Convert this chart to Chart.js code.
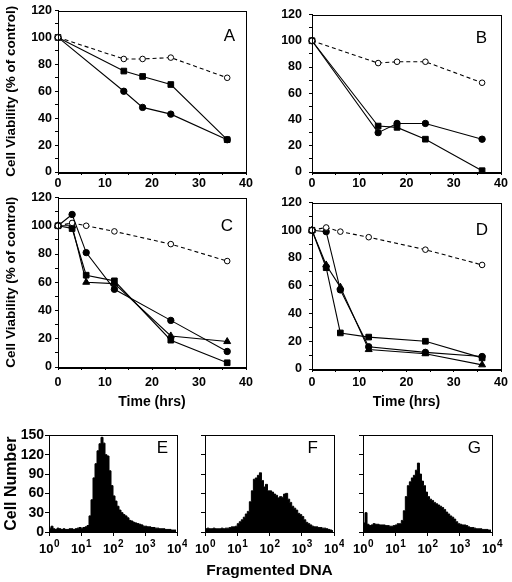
<!DOCTYPE html>
<html lang="en">
<head>
<meta charset="UTF-8">
<title>Cell Viability and Fragmented DNA</title>
<script src="https://cdn.jsdelivr.net/npm/chart.js"></script>
<style>
    body {
        margin: 0;
        background: #fff;
        width: 512px;
        height: 582px;
        position: relative;
        overflow: hidden;
    }
    canvas {
        position: absolute;
    }
</style>
</head>
<body>
<canvas id="panelA"></canvas>
<canvas id="panelB"></canvas>
<canvas id="panelC"></canvas>
<canvas id="panelD"></canvas>
<canvas id="panelE"></canvas>
<canvas id="panelF"></canvas>
<canvas id="panelG"></canvas>

<script>
// Time points (hrs)
const timeAB = [0, 14, 18, 24, 36];
const timeCD = [0, 3, 6, 12, 24, 36];

// Cell viability (% of control)
const aControl = [100, 84, 84, 85, 70];
const aSquare  = [100, 75, 71, 65, 24];
const aCircle  = [100, 60, 48, 43, 24];

const bControl = [100, 83, 84, 84, 68];
const bSquare  = [100, 35, 34, 25, 1];
const bCircle  = [100, 30, 37, 37, 25];

const cControl  = [100, 102, 100, 96, 87, 75];
const cCircle   = [100, 108, 81, 55, 33, 11];
const cSquare   = [100, 98, 65, 61, 19, 3];
const cTriangle = [100, 100, 60, 59, 22, 18];

const dControl  = [100, 102, 99, 95, 86, 75];
const dCircle   = [100, 99, 57, 16, 12, 9];
const dSquare   = [100, 73, 26, 23, 20, 8];
const dTriangle = [100, 75, 59, 14, 11, 3];

// Flow histograms: cell number per channel, 16 channels per decade, 10^0 .. 10^4
const histE = [6, 9, 5, 4, 6, 5, 4, 5, 4, 4, 5, 5, 4, 5, 6, 7,
               6, 7, 8, 10, 25, 50, 84, 106, 126, 137, 147, 138, 120, 118, 95, 72,
               56, 48, 40, 34, 30, 27, 25, 22, 18, 17, 15, 14, 13, 12, 11, 9,
               9, 8, 8, 7, 7, 6, 6, 5, 5, 5, 4, 4, 4, 3, 3, 3];
const histF = [5, 6, 5, 5, 6, 5, 5, 5, 6, 5, 6, 6, 7, 8, 8, 9,
               13, 16, 19, 23, 28, 32, 47, 64, 82, 84, 88, 92, 80, 70, 74, 64,
               64, 62, 59, 57, 53, 55, 54, 59, 60, 51, 46, 40, 37, 34, 29, 27,
               24, 19, 15, 13, 11, 9, 8, 8, 7, 7, 6, 6, 5, 4, 3, 2];
const histG = [14, 30, 12, 10, 11, 13, 12, 12, 11, 11, 11, 10, 10, 9, 9, 10,
               11, 13, 13, 18, 33, 55, 72, 78, 84, 88, 96, 107, 90, 79, 72, 62,
               55, 51, 49, 46, 44, 42, 40, 38, 35, 31, 28, 25, 23, 20, 16, 13,
               12, 11, 11, 10, 8, 7, 7, 6, 5, 5, 5, 4, 4, 4, 3, 3];
const decadeExps = ['0', '1', '2', '3', '4'];

const FONT = '"Liberation Sans", Arial, sans-serif';
Chart.defaults.font.family = FONT;
Chart.defaults.color = '#000';

// box around plot area, panel letter, and 10^n labels for the histograms
const framePlugin = {
    id: 'frame',
    afterDraw(chart, args, opts) {
        const ctx = chart.ctx;
        const a = chart.chartArea;
        ctx.save();
        ctx.strokeStyle = '#000';
        ctx.lineWidth = 1;
        ctx.strokeRect(Math.round(a.left) + 0.5, Math.round(a.top) + 0.5,
                       Math.round(a.right - a.left), Math.round(a.bottom - a.top));
        if (opts.letter) {
            ctx.fillStyle = '#000';
            ctx.font = '17px ' + FONT;
            ctx.textAlign = 'right';
            ctx.textBaseline = 'alphabetic';
            ctx.fillText(opts.letter, a.right - opts.dx, a.top + opts.base);
        }
        if (opts.logLabels) {
            const xs = chart.scales.x;
            decadeExps.forEach((e, i) => {
                const px = xs.getPixelForValue(i);
                ctx.font = 'bold 13px ' + FONT;
                const w1 = ctx.measureText('10').width;
                ctx.font = 'bold 10px ' + FONT;
                const w2 = ctx.measureText(e).width;
                const x0 = px - (w1 + w2) / 2;
                ctx.textAlign = 'left';
                ctx.textBaseline = 'alphabetic';
                ctx.font = 'bold 13px ' + FONT;
                ctx.fillText('10', x0, a.bottom + 21);
                ctx.font = 'bold 10px ' + FONT;
                ctx.fillText(e, x0 + w1 + 0.5, a.bottom + 15);
            });
        }
        ctx.restore();
    }
};
Chart.register(framePlugin);

function placeCanvas(id, plot, m) {
    const cv = document.getElementById(id);
    cv.width = plot.x1 - plot.x0 + m.l + m.r;
    cv.height = plot.y1 - plot.y0 + m.t + m.b;
    cv.style.left = (plot.x0 - m.l) + 'px';
    cv.style.top = (plot.y0 - m.t) + 'px';
    return cv;
}

const markerStyles = {
    open:     { pointStyle: 'circle',   pointRadius: 2.8, pointBackgroundColor: '#fff', borderDash: [4, 3] },
    circle:   { pointStyle: 'circle',   pointRadius: 3.2, pointBackgroundColor: '#000' },
    square:   { pointStyle: 'rect',     pointRadius: 4,   pointBackgroundColor: '#000' },
    triangle: { pointStyle: 'triangle', pointRadius: 4,   pointBackgroundColor: '#000' }
};

function viabilityPanel(id, plot, m, time, series, o) {
    const cv = placeCanvas(id, plot, m);
    const datasets = series.map(s => Object.assign({
        data: time.map((t, i) => ({ x: t, y: s.values[i] })),
        borderColor: '#000',
        borderWidth: 1.1,
        pointBorderColor: '#000',
        pointBorderWidth: 1,
        clip: false,
        tension: 0
    }, markerStyles[s.marker]));

    new Chart(cv, {
        type: 'line',
        data: { datasets: datasets },
        options: {
            responsive: false,
            animation: false,
            devicePixelRatio: 1,
            layout: { padding: { top: m.t, right: m.r, left: 0, bottom: 0 } },
            plugins: {
                legend: { display: false },
                tooltip: { enabled: false },
                frame: { letter: o.letter, dx: o.dx, base: o.base }
            },
            scales: {
                x: {
                    type: 'linear', min: 0, max: 40,
                    afterFit: s => { s.height = m.b; },
                    ticks: {
                        stepSize: 5, autoSkip: false, maxRotation: 0, padding: o.xPad,
                        font: { size: 12.5, weight: 'bold' },
                        callback: v => (v % 10 === 0 ? v : '')
                    },
                    grid: { drawOnChartArea: false, tickLength: 3, color: '#000' },
                    border: { color: '#000' },
                    title: {
                        display: !!o.xTitle, text: o.xTitle || '',
                        font: { size: 14, weight: 'bold' }, padding: 0
                    }
                },
                y: {
                    min: 0, max: 120,
                    afterFit: s => { s.width = m.l; },
                    ticks: {
                        stepSize: 10, autoSkip: false, padding: o.yPad,
                        font: { size: 12.5, weight: 'bold' },
                        callback: v => (v % 20 === 0 ? v : '')
                    },
                    grid: { drawOnChartArea: false, tickLength: 3, color: '#000' },
                    border: { color: '#000' },
                    title: {
                        display: !!o.yTitle, text: o.yTitle || '',
                        font: { size: 13.5, weight: 'bold' }, padding: { top: 3, bottom: 0 }
                    }
                }
            }
        }
    });
}

function histPanel(id, plot, m, counts, o) {
    const cv = placeCanvas(id, plot, m);
    new Chart(cv, {
        type: 'line',
        data: {
            datasets: [{
                data: counts.map((c, i) => ({ x: (i + 0.5) / 16, y: c })),
                stepped: 'middle',
                fill: 'origin',
                backgroundColor: '#000',
                borderColor: '#000',
                borderWidth: 1,
                pointRadius: 0
            }]
        },
        options: {
            responsive: false,
            animation: false,
            devicePixelRatio: 1,
            layout: { padding: { top: m.t, right: m.r, left: 0, bottom: 0 } },
            plugins: {
                legend: { display: false },
                tooltip: { enabled: false },
                frame: { letter: o.letter, dx: o.dx, base: o.base, logLabels: true }
            },
            scales: {
                x: {
                    type: 'linear', min: 0, max: 4,
                    afterFit: s => { s.height = m.b; },
                    ticks: { stepSize: 1, autoSkip: false, maxRotation: 0, callback: () => '' },
                    grid: { drawOnChartArea: false, tickLength: 4, color: '#000' },
                    border: { color: '#000' },
                    title: {
                        display: !!o.xTitle, text: o.xTitle || '',
                        font: { size: 15.5, weight: 'bold' }, padding: 0
                    }
                },
                y: {
                    min: 0, max: 150,
                    afterFit: s => { s.width = m.l; },
                    ticks: {
                        stepSize: 30, autoSkip: false, padding: 1,
                        font: { size: 14, weight: 'bold' },
                        callback: v => (o.yLabels ? v : '')
                    },
                    grid: { drawOnChartArea: false, tickLength: 4, color: '#000' },
                    border: { color: '#000' },
                    title: {
                        display: !!o.yTitle, text: o.yTitle || '',
                        font: { size: 16, weight: 'bold' }, padding: { top: 1.5, bottom: 0 }
                    }
                }
            }
        }
    });
}

const viabilityTitle = 'Cell Viability (% of control)';

viabilityPanel('panelA', { x0: 58, y0: 7, x1: 246, y1: 172 }, { l: 58, t: 7, r: 14, b: 28 }, timeAB, [
    { values: aControl, marker: 'open' },
    { values: aSquare, marker: 'square' },
    { values: aCircle, marker: 'circle' }
], { letter: 'A', dx: 11, base: 30, xPad: 1, yPad: 3, yTitle: viabilityTitle });

viabilityPanel('panelB', { x0: 312, y0: 8, x1: 501, y1: 172 }, { l: 40, t: 8, r: 11, b: 28 }, timeAB, [
    { values: bControl, marker: 'open' },
    { values: bSquare, marker: 'square' },
    { values: bCircle, marker: 'circle' }
], { letter: 'B', dx: 14, base: 28, xPad: 1, yPad: 7 });

viabilityPanel('panelC', { x0: 58, y0: 197, x1: 246, y1: 367 }, { l: 58, t: 10, r: 14, b: 44 }, timeCD, [
    { values: cControl, marker: 'open' },
    { values: cTriangle, marker: 'triangle' },
    { values: cSquare, marker: 'square' },
    { values: cCircle, marker: 'circle' }
], { letter: 'C', dx: 13, base: 33, xPad: 5, yPad: 3, yTitle: viabilityTitle, xTitle: 'Time (hrs)' });

viabilityPanel('panelD', { x0: 312, y0: 198, x1: 501, y1: 369 }, { l: 40, t: 10, r: 11, b: 42 }, timeCD, [
    { values: dControl, marker: 'open' },
    { values: dTriangle, marker: 'triangle' },
    { values: dSquare, marker: 'square' },
    { values: dCircle, marker: 'circle' }
], { letter: 'D', dx: 13, base: 32, xPad: 3, yPad: 7, xTitle: 'Time (hrs)' });

histPanel('panelE', { x0: 49, y0: 434, x1: 177, y1: 532 }, { l: 49, t: 8, r: 10, b: 30 }, histE,
    { letter: 'E', dx: 9, base: 18, yLabels: true, yTitle: 'Cell Number' });
histPanel('panelF', { x0: 205, y0: 434, x1: 334, y1: 532 }, { l: 15, t: 8, r: 10, b: 48 }, histF,
    { letter: 'F', dx: 16, base: 18, xTitle: 'Fragmented DNA' });
histPanel('panelG', { x0: 363, y0: 434, x1: 492, y1: 532 }, { l: 15, t: 8, r: 14, b: 30 }, histG,
    { letter: 'G', dx: 11, base: 18 });
</script>
</body>
</html>
